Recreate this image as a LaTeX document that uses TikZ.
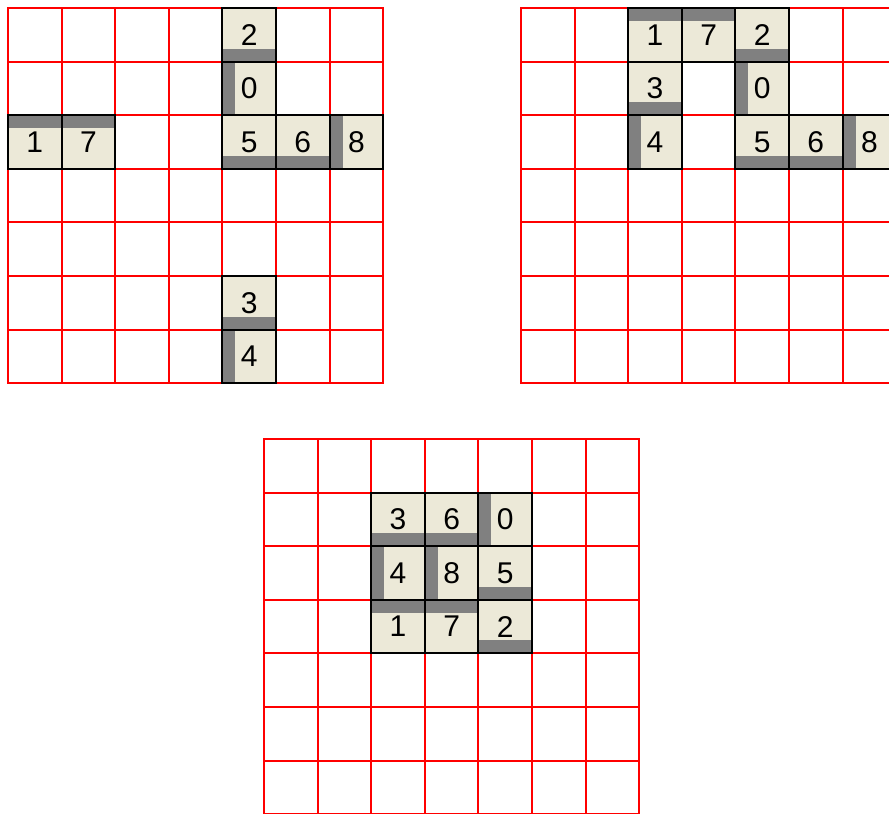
\documentclass[tikz,border=0pt]{standalone}
\usepackage{fontspec}
\setmainfont{Liberation Sans}
\definecolor{gridred}{RGB}{255,0,0}
\definecolor{tilecream}{RGB}{236,233,216}
\definecolor{bandgray}{RGB}{128,128,128}
\tikzset{
  gridline/.style={draw=gridred, line width=2pt, line cap=rect},
  tile/.style={draw=black, line width=2pt, fill=tilecream, minimum size=53.6pt,
    inner sep=0pt, text=black, font=\fontsize{30}{30}\selectfont},
  bandbottom/.style={path picture={\fill[bandgray] (path picture bounding box.south west)
    rectangle ([yshift=13pt]path picture bounding box.south east);}},
  bandtop/.style={path picture={\fill[bandgray] (path picture bounding box.north west)
    rectangle ([yshift=-13pt]path picture bounding box.north east);}},
  bandleft/.style={path picture={\fill[bandgray] (path picture bounding box.south west)
    rectangle ([xshift=13pt]path picture bounding box.north west);}},
}
\newcommand\sevengrid[2]{%
  \foreach \i in {0,...,7} {
    \draw[gridline] ({#1+\i*53.6},#2) -- ({#1+\i*53.6},{#2+375.2});
    \draw[gridline] (#1,{#2+\i*53.6}) -- ({#1+375.2},{#2+\i*53.6});
  }}
\newcommand\tileat[7]{%
  \node[tile,#7] (#1) at ({#2+(#4+0.5)*53.6},{#3+(#5+0.5)*53.6}) {#6};}
\begin{document}
\begin{tikzpicture}[x=1pt,y=-1pt]
\useasboundingbox (0,0) rectangle (889,814);
\clip (0,0) rectangle (889,814);
\fill[white] (0,0) rectangle (889,814);
% grid 1
\sevengrid{8}{8}
\tileat{a2}{8}{8}{4}{0}{2}{bandbottom}
\tileat{a0}{8}{8}{4}{1}{0}{bandleft}
\tileat{a1}{8}{8}{0}{2}{1}{bandtop}
\tileat{a7}{8}{8}{1}{2}{7}{bandtop}
\tileat{a5}{8}{8}{4}{2}{5}{bandbottom}
\tileat{a6}{8}{8}{5}{2}{6}{bandbottom}
\tileat{a8}{8}{8}{6}{2}{8}{bandleft}
\tileat{a3}{8}{8}{4}{5}{3}{bandbottom}
\tileat{a4}{8}{8}{4}{6}{4}{bandleft}
% grid 2
\sevengrid{521}{8}
\tileat{b1}{521}{8}{2}{0}{1}{bandtop}
\tileat{b7}{521}{8}{3}{0}{7}{bandtop}
\tileat{b2}{521}{8}{4}{0}{2}{bandbottom}
\tileat{b3}{521}{8}{2}{1}{3}{bandbottom}
\tileat{b0}{521}{8}{4}{1}{0}{bandleft}
\tileat{b4}{521}{8}{2}{2}{4}{bandleft}
\tileat{b5}{521}{8}{4}{2}{5}{bandbottom}
\tileat{b6}{521}{8}{5}{2}{6}{bandbottom}
\tileat{b8}{521}{8}{6}{2}{8}{bandleft}
% grid 3
\sevengrid{264}{439}
\tileat{c3}{264}{439}{2}{1}{3}{bandbottom}
\tileat{c6}{264}{439}{3}{1}{6}{bandbottom}
\tileat{c0}{264}{439}{4}{1}{0}{bandleft}
\tileat{c4}{264}{439}{2}{2}{4}{bandleft}
\tileat{c8}{264}{439}{3}{2}{8}{bandleft}
\tileat{c5}{264}{439}{4}{2}{5}{bandbottom}
\tileat{c1}{264}{439}{2}{3}{1}{bandtop}
\tileat{c7}{264}{439}{3}{3}{7}{bandtop}
\tileat{c2}{264}{439}{4}{3}{2}{bandbottom}
\end{tikzpicture}
\end{document}
